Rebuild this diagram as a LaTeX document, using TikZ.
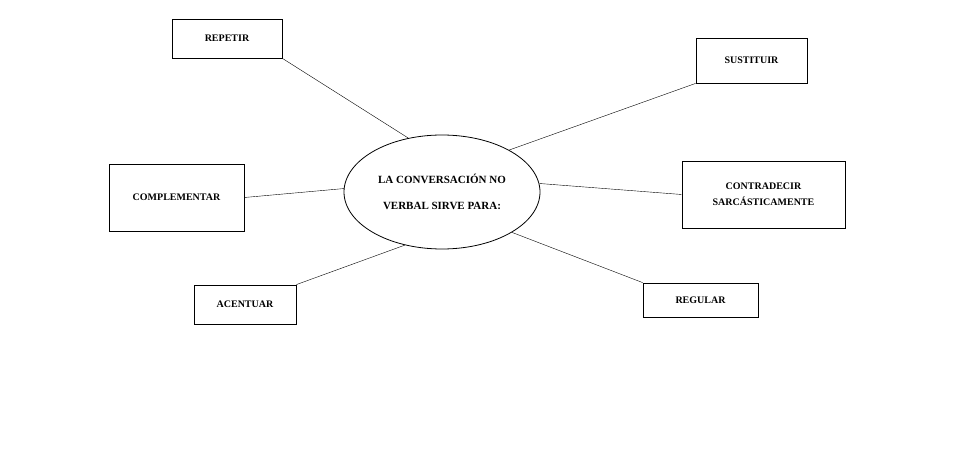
\documentclass[tikz,border=0pt]{standalone}
\usepackage{fontspec}
\setmainfont{Liberation Serif}
\usetikzlibrary{shapes.geometric}
\begin{document}
\begin{tikzpicture}[x=1pt,y=-1pt,
  caja/.style={draw,thick,font=\bfseries\fontsize{10}{16}\selectfont,align=center,inner sep=0pt},
  centro/.style={ellipse,draw,thick,font=\bfseries\fontsize{11}{26}\selectfont,align=center,minimum width=196,minimum height=114,inner sep=0pt}]

  \useasboundingbox (0,0) rectangle (962,449);

  \node[centro] (lc) at (442,192) {LA CONVERSACIÓN NO\\VERBAL SIRVE PARA:};

  % cajas alrededor
  \node[caja,minimum width=110,minimum height=39] (rep) at (227,38.5) {REPETIR};
  \node[caja,minimum width=111,minimum height=45] (sus) at (751.5,60.5) {SUSTITUIR};
  \node[caja,minimum width=135,minimum height=67] (com) at (176.5,197.5) {COMPLEMENTAR};
  \node[caja,minimum width=163,minimum height=67] (con) at (763.5,194.5) {CONTRADECIR\\SARCÁSTICAMENTE};
  \node[caja,minimum width=102,minimum height=39] (ace) at (245,304.5) {ACENTUAR};
  \node[caja,minimum width=115,minimum height=34] (reg) at (700.5,300) {REGULAR};

  \draw (rep.south east) -- (lc.122);
  \draw (sus.south west) -- (lc.32);
  \draw (com.east) -- (lc.178);
  \draw (con.west) -- (lc.5);
  \draw (ace.north east) -- (lc.235);
  \draw (reg.north west) -- (lc.-30);

\end{tikzpicture}
\end{document}
